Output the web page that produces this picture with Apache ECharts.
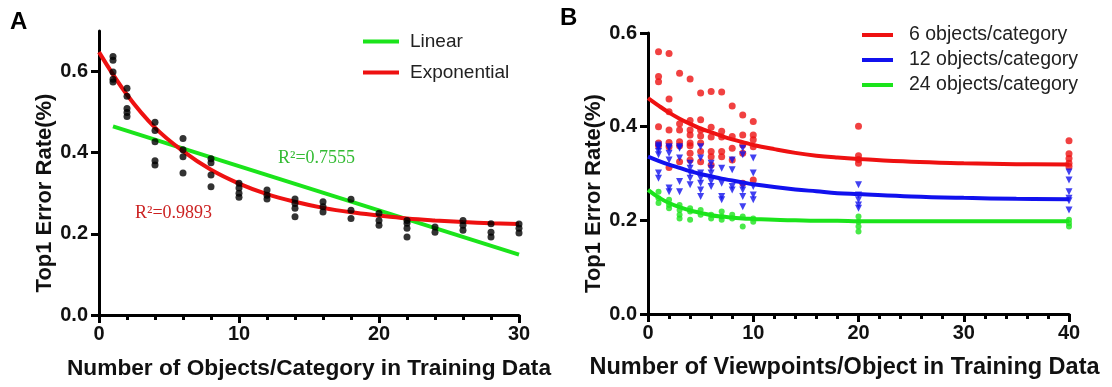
<!DOCTYPE html>
<html>
<head>
<meta charset="utf-8">
<script src="https://cdn.jsdelivr.net/npm/echarts@6/dist/echarts.min.js"></script>
<style>
html,body{margin:0;padding:0;background:#fff}
#chart{width:1112px;height:387px}
</style>
</head>
<body>
<div id="chart"></div>
<script>
// ---- Panel A: error rate vs number of training objects per category ----
const objectCounts = [1, 2, 4, 6, 8, 10, 12, 14, 16, 18, 20, 22, 24, 26, 28, 30];
const objectErrors = [
  [0.637, 0.628, 0.599, 0.581, 0.574],
  [0.559, 0.539, 0.509, 0.499, 0.489],
  [0.475, 0.455, 0.427, 0.380, 0.370],
  [0.435, 0.407, 0.390, 0.350],
  [0.385, 0.375, 0.345, 0.316],
  [0.325, 0.313, 0.300, 0.290],
  [0.308, 0.295, 0.286],
  [0.286, 0.275, 0.263, 0.242],
  [0.279, 0.267, 0.254],
  [0.285, 0.258, 0.238],
  [0.251, 0.233, 0.221],
  [0.233, 0.226, 0.214, 0.192],
  [0.217, 0.204],
  [0.233, 0.221, 0.209],
  [0.225, 0.204, 0.192],
  [0.224, 0.214, 0.202]
];
const linearFitX = [1, 30];
const linearFitY = [0.465, 0.149];
const expFitX = [0, 2, 4, 6, 8, 10, 12, 14, 16, 18, 20, 22, 24, 26, 28, 30];
const expFitY = [0.648, 0.543, 0.462, 0.404, 0.358, 0.324, 0.298, 0.279, 0.264, 0.253, 0.245, 0.238, 0.233, 0.229, 0.226, 0.224];

// ---- Panel B: error rate vs number of viewpoints per object ----
const viewpointCounts = [1, 2, 3, 4, 5, 6, 7, 8, 9, 10, 20, 40];
const err6 = [
  [0.560, 0.507, 0.496, 0.400, 0.365, 0.359],
  [0.556, 0.459, 0.432, 0.393, 0.366, 0.357, 0.313],
  [0.514, 0.406, 0.393, 0.368, 0.359, 0.325],
  [0.502, 0.413, 0.393, 0.382, 0.365, 0.359, 0.343, 0.329],
  [0.472, 0.415, 0.393, 0.380, 0.365, 0.347, 0.325],
  [0.475, 0.399, 0.378, 0.347, 0.336, 0.318],
  [0.474, 0.390, 0.378, 0.347, 0.336],
  [0.444, 0.379, 0.354, 0.329],
  [0.425, 0.382, 0.361, 0.343, 0.279],
  [0.411, 0.382, 0.372, 0.357, 0.286],
  [0.401, 0.338, 0.330, 0.322],
  [0.370, 0.342, 0.332, 0.322, 0.315]
];
const err12 = [
  [0.361, 0.357, 0.354, 0.347, 0.340, 0.301, 0.290],
  [0.357, 0.354, 0.343, 0.329, 0.269, 0.261],
  [0.357, 0.354, 0.333, 0.283, 0.261],
  [0.322, 0.311, 0.301, 0.290, 0.276],
  [0.357, 0.333, 0.301, 0.290, 0.279, 0.265, 0.251],
  [0.322, 0.311, 0.301, 0.283, 0.272],
  [0.311, 0.279, 0.251, 0.244],
  [0.329, 0.308, 0.272, 0.265],
  [0.354, 0.340, 0.272, 0.265, 0.251, 0.229],
  [0.333, 0.301, 0.272, 0.254, 0.244],
  [0.276, 0.254, 0.244, 0.233, 0.226],
  [0.303, 0.286, 0.261, 0.247, 0.242, 0.222]
];
const err24 = [
  [0.261, 0.247, 0.237],
  [0.244, 0.233, 0.226],
  [0.233, 0.222, 0.212, 0.204],
  [0.226, 0.219, 0.201],
  [0.222, 0.212],
  [0.212, 0.204],
  [0.219, 0.208, 0.201],
  [0.212, 0.204],
  [0.208, 0.187],
  [0.204, 0.197],
  [0.208, 0.197, 0.187, 0.176],
  [0.201, 0.194, 0.187]
];
const fitBX = [0, 1, 2, 3, 4, 5, 6, 7, 8, 9, 10, 12, 14, 16, 18, 20, 25, 30, 35, 40];
const fit6Y  = [0.461, 0.445, 0.430, 0.417, 0.406, 0.396, 0.388, 0.380, 0.373, 0.367, 0.361, 0.352, 0.344, 0.338, 0.334, 0.331, 0.325, 0.322, 0.320, 0.319];
const fit12Y = [0.336, 0.327, 0.319, 0.312, 0.305, 0.299, 0.294, 0.289, 0.285, 0.281, 0.277, 0.271, 0.266, 0.262, 0.258, 0.256, 0.251, 0.248, 0.246, 0.245];
const fit24Y = [0.265, 0.249, 0.237, 0.228, 0.221, 0.216, 0.211, 0.208, 0.206, 0.204, 0.203, 0.201, 0.200, 0.199, 0.199, 0.198, 0.198, 0.198, 0.198, 0.198];

const yTicks = [0, 0.2, 0.4, 0.6];

const RED = '#ee1111', GREEN = '#1be41b', BLUE = '#1111ee';
const FONT = '"Liberation Sans", Arial, sans-serif';

function pairs(xs, ys) { return xs.map((x, i) => [x, ys[i]]); }
function spread(xs, groups) {
  const out = [];
  xs.forEach((x, i) => groups[i].forEach(v => out.push([x, v])));
  return out;
}

const axisLine = { show: true, onZero: false, lineStyle: { color: '#000', width: 3 } };
const axisTick = { show: true, length: 8, lineStyle: { color: '#000', width: 3 } };
const tickFont = { color: '#111', fontSize: 20, fontWeight: 'bold', fontFamily: FONT };

function xAxis(gridIndex, max, name, size, pad) {
  return {
    type: 'value', gridIndex, min: 0, max, interval: 10,
    axisLine, axisTick,
    minorTick: { show: true, splitNumber: 5, length: 5, lineStyle: { color: '#000', width: 3 } },
    splitLine: { show: false }, minorSplitLine: { show: false },
    axisLabel: Object.assign({ margin: 9 }, tickFont),
    name, nameLocation: 'middle', nameGap: 42,
    nameTextStyle: { padding: pad, color: '#111', fontSize: size, fontWeight: 'bold', fontFamily: FONT }
  };
}
function yAxis(gridIndex, max, gap) {
  return {
    type: 'value', gridIndex, min: 0, max,
    axisLine,
    axisTick: Object.assign({ customValues: yTicks }, axisTick),
    splitLine: { show: false },
    axisLabel: Object.assign({ margin: 11, customValues: yTicks, formatter: v => v.toFixed(1) }, tickFont),
    name: 'Top1 Error Rate(%)', nameLocation: 'middle', nameGap: gap,
    nameTextStyle: { padding: [0, 40, 0, 0], color: '#111', fontSize: 22, fontWeight: 'bold', fontFamily: FONT }
  };
}

const chart = echarts.init(document.getElementById('chart'), null, { renderer: 'canvas' });
chart.setOption({
  backgroundColor: '#fff',
  animation: false,
  grid: [
    { left: 99, top: 31, width: 420, height: 284 },
    { left: 648, top: 33, width: 421, height: 281 }
  ],
  xAxis: [
    xAxis(0, 30, 'Number of Objects/Category in Training Data', 22.7, [0, 0, 0, 0]),
    xAxis(1, 40, 'Number of Viewpoints/Object in Training Data', 23.5, [0, 28, 0, 0])
  ],
  yAxis: [yAxis(0, 0.7, 42), yAxis(1, 0.6, 39)],
  legend: [
    {
      data: ['Linear', 'Exponential'], orient: 'vertical', left: 358, top: 27,
      icon: 'rect', itemWidth: 36, itemHeight: 4, itemGap: 12,
      textStyle: { color: '#222', fontSize: 19, fontFamily: FONT, padding: [0, 0, 0, 6] }
    },
    {
      data: ['6 objects/category', '12 objects/category', '24 objects/category'],
      orient: 'vertical', left: 857, top: 20,
      icon: 'rect', itemWidth: 31, itemHeight: 4, itemGap: 5,
      textStyle: { color: '#222', fontSize: 19.5, fontFamily: FONT, padding: [0, 0, 0, 11] }
    }
  ],
  graphic: [
    { type: 'text', left: 10, top: 10, style: { text: 'A', font: 'bold 24px ' + FONT, fill: '#000' } },
    { type: 'text', left: 560, top: 6, style: { text: 'B', font: 'bold 24px ' + FONT, fill: '#000' } },
    { type: 'text', left: 278, top: 149, style: { text: 'R\u00B2=0.7555', font: '18px "Liberation Serif", "Times New Roman", serif', fill: '#33bb33' } },
    { type: 'text', left: 135, top: 204, style: { text: 'R\u00B2=0.9893', font: '18px "Liberation Serif", "Times New Roman", serif', fill: '#cc2222' } }
  ],
  series: [
    {
      name: 'Linear', type: 'line', xAxisIndex: 0, yAxisIndex: 0,
      data: pairs(linearFitX, linearFitY), showSymbol: false,
      lineStyle: { color: GREEN, width: 4 }, itemStyle: { color: GREEN }, z: 2
    },
    {
      name: 'Exponential', type: 'line', xAxisIndex: 0, yAxisIndex: 0,
      data: pairs(expFitX, expFitY), smooth: 0.4, showSymbol: false,
      lineStyle: { color: RED, width: 4 }, itemStyle: { color: RED }, z: 3
    },
    {
      name: 'objects', type: 'scatter', xAxisIndex: 0, yAxisIndex: 0,
      data: spread(objectCounts, objectErrors), symbol: 'circle', symbolSize: 7,
      itemStyle: { color: '#000' }, z: 4
    },
    {
      name: '6 pts', type: 'scatter', xAxisIndex: 1, yAxisIndex: 1,
      data: spread(viewpointCounts, err6), symbol: 'circle', symbolSize: 7,
      itemStyle: { color: RED }, z: 3
    },
    {
      name: '12 pts', type: 'scatter', xAxisIndex: 1, yAxisIndex: 1,
      data: spread(viewpointCounts, err12), symbol: 'triangle', symbolRotate: 180, symbolSize: 7,
      itemStyle: { color: BLUE }, z: 3
    },
    {
      name: '24 pts', type: 'scatter', xAxisIndex: 1, yAxisIndex: 1,
      data: spread(viewpointCounts, err24), symbol: 'circle', symbolSize: 6,
      itemStyle: { color: GREEN }, z: 3
    },
    {
      name: '6 objects/category', type: 'line', xAxisIndex: 1, yAxisIndex: 1,
      data: pairs(fitBX, fit6Y), smooth: 0.4, showSymbol: false,
      lineStyle: { color: RED, width: 4 }, itemStyle: { color: RED }, z: 4
    },
    {
      name: '12 objects/category', type: 'line', xAxisIndex: 1, yAxisIndex: 1,
      data: pairs(fitBX, fit12Y), smooth: 0.4, showSymbol: false,
      lineStyle: { color: BLUE, width: 4 }, itemStyle: { color: BLUE }, z: 4
    },
    {
      name: '24 objects/category', type: 'line', xAxisIndex: 1, yAxisIndex: 1,
      data: pairs(fitBX, fit24Y), smooth: 0.4, showSymbol: false,
      lineStyle: { color: GREEN, width: 4 }, itemStyle: { color: GREEN }, z: 4
    }
  ]
});
</script>
</body>
</html>
